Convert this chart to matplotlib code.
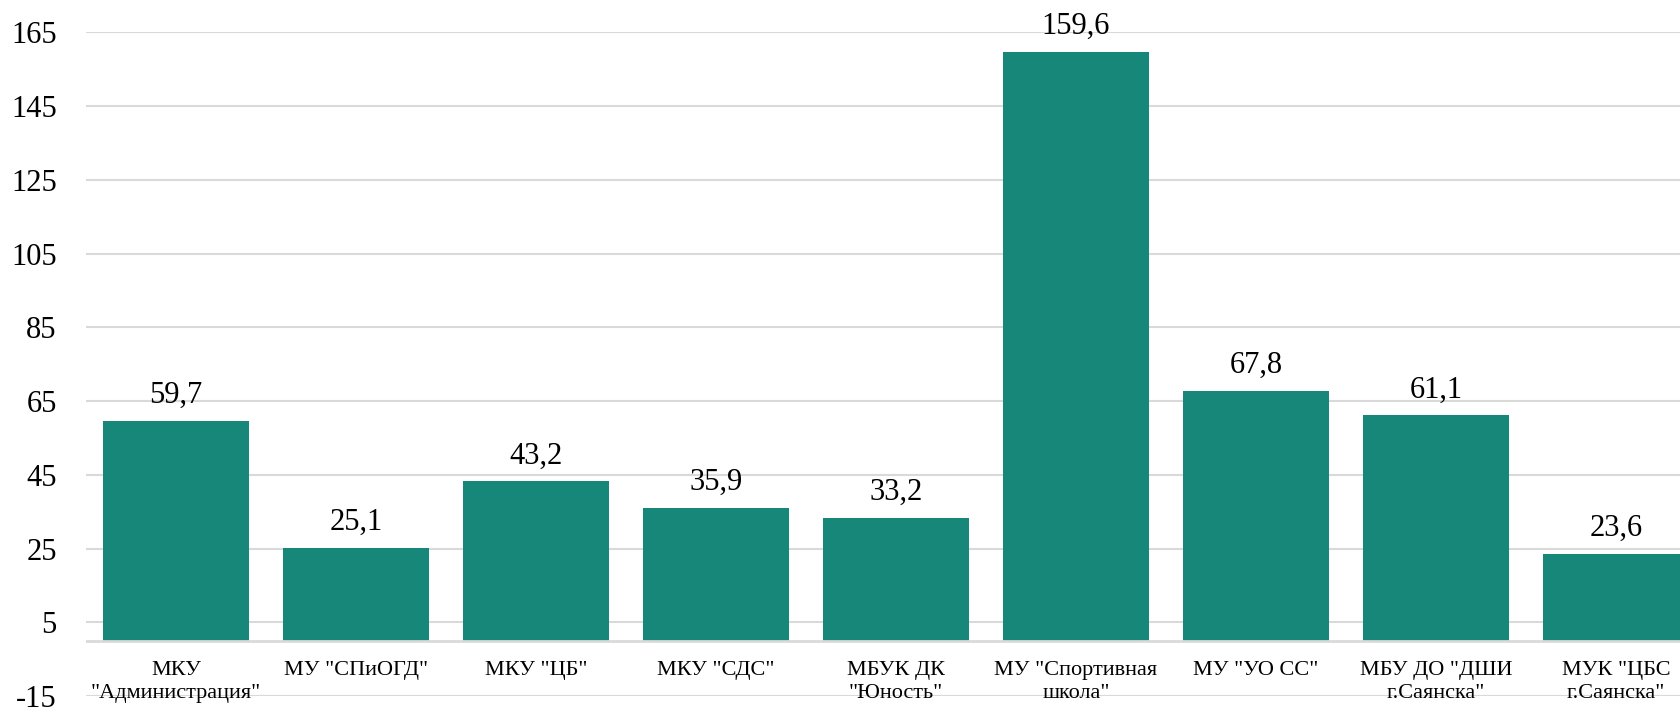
import matplotlib
matplotlib.use("Agg")
import matplotlib.pyplot as plt

plt.rcParams['font.family'] = ['Liberation Serif', 'DejaVu Serif']

categories = ['МКУ\n"Администрация"', 'МУ "СПиОГД"', 'МКУ "ЦБ"', 'МКУ "СДС"',
              'МБУК ДК\n"Юность"', 'МУ "Спортивная\nшкола"', 'МУ "УО СС"',
              'МБУ ДО "ДШИ\nг.Саянска"', 'МУК "ЦБС\nг.Саянска"']
values = [59.7, 25.1, 43.2, 35.9, 33.2, 159.6, 67.8, 61.1, 23.6]
yticks = [-15, 5, 25, 45, 65, 85, 105, 125, 145, 165]

bar_color = '#168779'
grid_color = '#d9d9d9'

fig = plt.figure(figsize=(16.8, 7.08), dpi=100)
# axes runs a little past the right edge, like the cropped original
ax = fig.add_axes([86 / 1680, 12 / 708, 1620 / 1680, 663.7 / 708])

x = list(range(len(values)))
ax.bar(x, values, width=0.806, color=bar_color, zorder=2)

for xi, v in zip(x, values):
    ax.annotate(f'{v:.1f}'.replace('.', ','), (xi, v), xytext=(0, 13),
                textcoords='offset points', ha='center', va='baseline',
                fontsize=22, color='black')

# category names sit just under the zero line, one text per line
line_offsets = [-24.5, -41.5]
for xi, name in zip(x, categories):
    for line, dy in zip(name.split('\n'), line_offsets):
        ax.annotate(line, (xi, 0), xytext=(0, dy), textcoords='offset points',
                    ha='center', va='baseline', fontsize=16,
                    color='black', zorder=4, annotation_clip=False)

ax.set_xlim(-0.5, len(values) - 0.5)
ax.set_ylim(-15, 165)
ax.set_yticks(yticks)
ax.set_yticklabels([str(t) for t in yticks])
ax.grid(axis='y', color=grid_color, linewidth=1.5, zorder=0)
ax.axhline(0, color=grid_color, linewidth=2, zorder=3)

ax.set_xticks([])
ax.tick_params(axis='y', length=0, pad=21, labelsize=22)

for s in ax.spines.values():
    s.set_visible(False)

fig.savefig('out.png', dpi=100)
